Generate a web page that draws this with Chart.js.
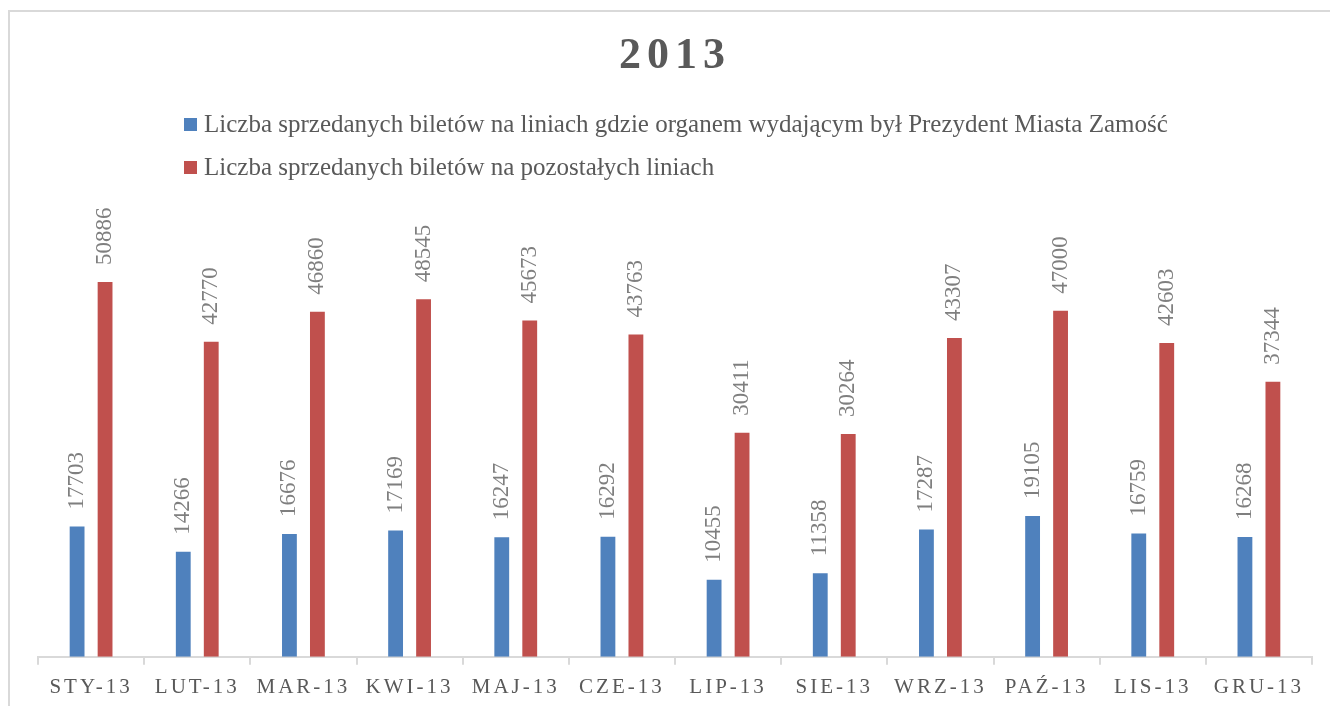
<!DOCTYPE html>
<html>
<head>
<meta charset="utf-8">
<script src="https://cdn.jsdelivr.net/npm/chart.js@4/dist/chart.umd.min.js"></script>
<style>
  html, body { margin: 0; padding: 0; background: #ffffff; }
  #wrap { position: relative; width: 1330px; height: 706px; }
</style>
</head>
<body>
<div id="wrap"><canvas id="c" width="1330" height="706"></canvas></div>
<script>
const titleText = '2013';
const categories = ['STY-13','LUT-13','MAR-13','KWI-13','MAJ-13','CZE-13','LIP-13','SIE-13','WRZ-13','PAŹ-13','LIS-13','GRU-13'];
const seriesNames = [
  'Liczba sprzedanych biletów na liniach gdzie organem wydającym był Prezydent Miasta Zamość',
  'Liczba sprzedanych biletów na pozostałych liniach'
];
const prezydentValues = [17703, 14266, 16676, 17169, 16247, 16292, 10455, 11358, 17287, 19105, 16759, 16268];
const pozostaleValues = [50886, 42770, 46860, 48545, 45673, 43763, 30411, 30264, 43307, 47000, 42603, 37344];
const seriesColors = ['#4f81bd', '#c0504d'];

const FONT = '"Liberation Serif", "DejaVu Serif", serif';

const decorPlugin = {
  id: 'decor',
  beforeDraw(chart) {
    const ctx = chart.ctx;
    ctx.letterSpacing = '3px';
  },
  afterDatasetsDraw(chart) {
    const ctx = chart.ctx;
    ctx.save();
    ctx.letterSpacing = '0px';
    ctx.font = '23px ' + FONT;
    ctx.fillStyle = '#7f7f7f';
    ctx.textAlign = 'left';
    ctx.textBaseline = 'middle';
    chart.data.datasets.forEach((ds, di) => {
      const meta = chart.getDatasetMeta(di);
      meta.data.forEach((bar, i) => {
        ctx.save();
        ctx.translate(bar.x, bar.y - 17);
        ctx.rotate(-Math.PI / 2);
        ctx.fillText(String(ds.data[i]), 0, 0);
        ctx.restore();
      });
    });
    ctx.restore();
  },
  afterDraw(chart) {
    const ctx = chart.ctx;
    ctx.save();
    // outer frame (top and left edges visible)
    ctx.strokeStyle = '#d9d9d9';
    ctx.lineWidth = 2;
    ctx.beginPath();
    ctx.moveTo(9, 706);
    ctx.lineTo(9, 11);
    ctx.lineTo(1330, 11);
    ctx.stroke();
    // title
    ctx.letterSpacing = '6px';
    ctx.font = 'bold 44px ' + FONT;
    ctx.fillStyle = '#595959';
    ctx.textAlign = 'center';
    ctx.textBaseline = 'middle';
    ctx.fillText(titleText, 675, 57);
    // legend
    ctx.letterSpacing = '0px';
    ctx.font = '25px ' + FONT;
    ctx.textAlign = 'left';
    const rows = [124, 167];
    seriesNames.forEach((name, i) => {
      ctx.fillStyle = seriesColors[i];
      ctx.fillRect(184, rows[i] - 6, 13, 13);
      ctx.fillStyle = '#595959';
      ctx.fillText(name, 204, rows[i] + 1);
    });
    ctx.restore();
  }
};

new Chart(document.getElementById('c'), {
  type: 'bar',
  data: {
    labels: categories,
    datasets: [
      { label: seriesNames[0], data: prezydentValues, backgroundColor: seriesColors[0],
        categoryPercentage: 0.527, barPercentage: 0.53 },
      { label: seriesNames[1], data: pozostaleValues, backgroundColor: seriesColors[1],
        categoryPercentage: 0.527, barPercentage: 0.53 }
    ]
  },
  options: {
    responsive: false,
    animation: false,
    devicePixelRatio: 1,
    layout: { padding: { top: 215, left: 38, right: 18, bottom: -4 } },
    plugins: {
      legend: { display: false },
      title: { display: false },
      tooltip: { enabled: false }
    },
    scales: {
      y: { display: false, min: 0, max: 60000 },
      x: {
        border: { color: '#d9d9d9', width: 2 },
        grid: { drawOnChartArea: false, drawTicks: true, tickLength: 8, color: '#d9d9d9', lineWidth: 2, offset: true },
        ticks: { color: '#595959', font: { family: FONT, size: 21 }, padding: 10, maxRotation: 0, autoSkip: false }
      }
    }
  },
  plugins: [decorPlugin]
});
</script>
</body>
</html>
